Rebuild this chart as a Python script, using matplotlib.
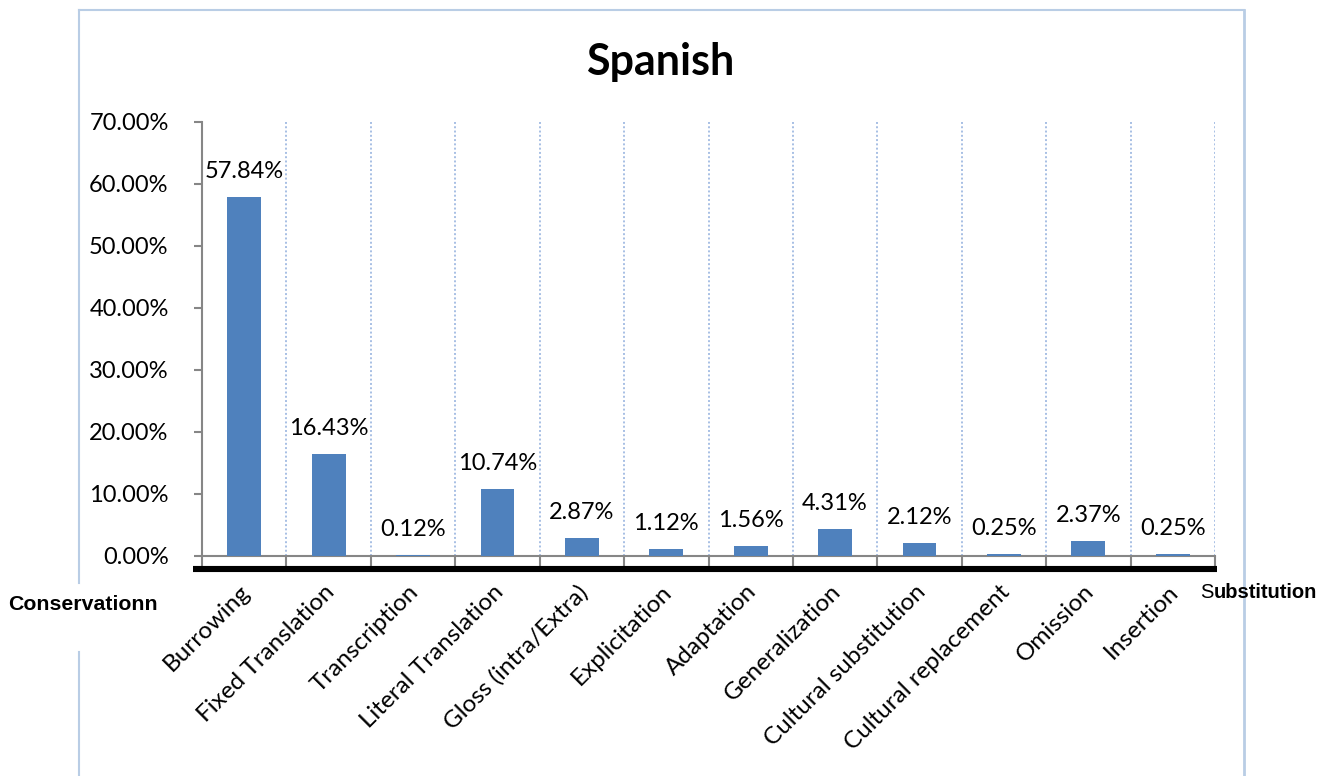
import matplotlib
matplotlib.use("Agg")
import matplotlib.pyplot as plt
from matplotlib.lines import Line2D
from matplotlib.ticker import FuncFormatter
import matplotlib.transforms as mtrans

categories = ['Burrowing', 'Fixed Translation', 'Transcription', 'Literal Translation',
              'Gloss (intra/Extra)', 'Explicitation', 'Adaptation', 'Generalization',
              'Cultural substitution', 'Cultural replacement', 'Omission', 'Insertion']
values = [57.84, 16.43, 0.12, 10.74, 2.87, 1.12, 1.56, 4.31, 2.12, 0.25, 2.37, 0.25]
yticks = [0, 10, 20, 30, 40, 50, 60, 70]

W, H = 1329, 776
BAR = '#4F81BD'
AXIS = '#868686'
FRAME = '#B9CDE5'
GRID = '#A7BFE4'
FONT = 'Lato'

fig = plt.figure(figsize=(W / 100, H / 100), dpi=100)
fig.patch.set_facecolor('white')

# axes placed in pixel terms
x0, x1, y0, y1 = 202, 1215, 556, 122
ax = fig.add_axes([x0 / W, 1 - y0 / H, (x1 - x0) / W, (y0 - y1) / H])

n = len(categories)
ax.bar(range(n), values, width=0.40, color=BAR, zorder=3)
ax.set_xlim(-0.5, n - 0.5)
ax.set_ylim(0, 70)

# dotted separators between categories
for b in range(1, n + 1):
    ax.axvline(b - 0.5, color=GRID, lw=1.4, linestyle=(0, (1, 1.2)), zorder=1)

for s in ['top', 'right']:
    ax.spines[s].set_visible(False)
for s in ['left', 'bottom']:
    ax.spines[s].set_color(AXIS)
    ax.spines[s].set_linewidth(1.5)

ax.set_yticks(yticks)
ax.yaxis.set_major_formatter(FuncFormatter(lambda v, p: f'{v:.2f}%'))
ax.tick_params(axis='y', direction='out', length=6, width=1.5, color=AXIS,
               pad=18, labelsize=17)
for t in ax.get_yticklabels():
    t.set_fontfamily(FONT)

ax.set_xticks([b - 0.5 for b in range(n + 1)])
ax.set_xticklabels([])
ax.tick_params(axis='x', direction='out', length=8, width=1.5, color=AXIS)

# category names, rotated
lab_tr = ax.get_xaxis_transform() + mtrans.ScaledTranslation(-5 / 100, -25 / 100, fig.dpi_scale_trans)
for i, c in enumerate(categories):
    ax.text(i, 0, c, transform=lab_tr, rotation=45, rotation_mode='anchor',
            ha='right', va='top', fontsize=17.5, family=FONT)

# value labels
for i, v in enumerate(values):
    ax.annotate(f'{v:.2f}%', (i, v), xytext=(0, 13.7), textcoords='offset points',
                ha='center', va='baseline', fontsize=17, family=FONT)

# heavy rule under the axis
fig.add_artist(Line2D([193 / W, 1217 / W], [1 - 569 / H, 1 - 569 / H],
                      color='black', lw=4.4, solid_capstyle='butt'))

# outer frame
def px_line(xs, ys, **kw):
    fig.add_artist(Line2D([x / W for x in xs], [1 - y / H for y in ys], **kw))

px_line([79, 1244], [10, 10], color=FRAME, lw=1.5)
px_line([79, 79], [10, 583], color=FRAME, lw=1.5)
px_line([79, 79], [652, 780], color=FRAME, lw=1.5)
px_line([1244, 1244], [10, 780], color=FRAME, lw=2)

fig.text(660 / W, 1 - 75 / H, 'Spanish', ha='center', va='baseline',
         fontsize=31, fontweight='bold', family=FONT)

fig.text(8 / W, 1 - 605 / H, 'Conservationn', ha='left', va='center',
         fontsize=15.3, fontweight='bold', family='Liberation Sans')
s = fig.text(1200 / W, 1 - 592 / H, 'S', ha='left', va='center',
             fontsize=14.5, family='Liberation Sans')
fig.canvas.draw()
bb = s.get_window_extent()
fig.text(bb.x1 / W, 1 - 592 / H, 'ubstitution', ha='left', va='center',
         fontsize=14.5, fontweight='bold', family='Liberation Sans')

fig.savefig('out.png', dpi=100, facecolor='white')
